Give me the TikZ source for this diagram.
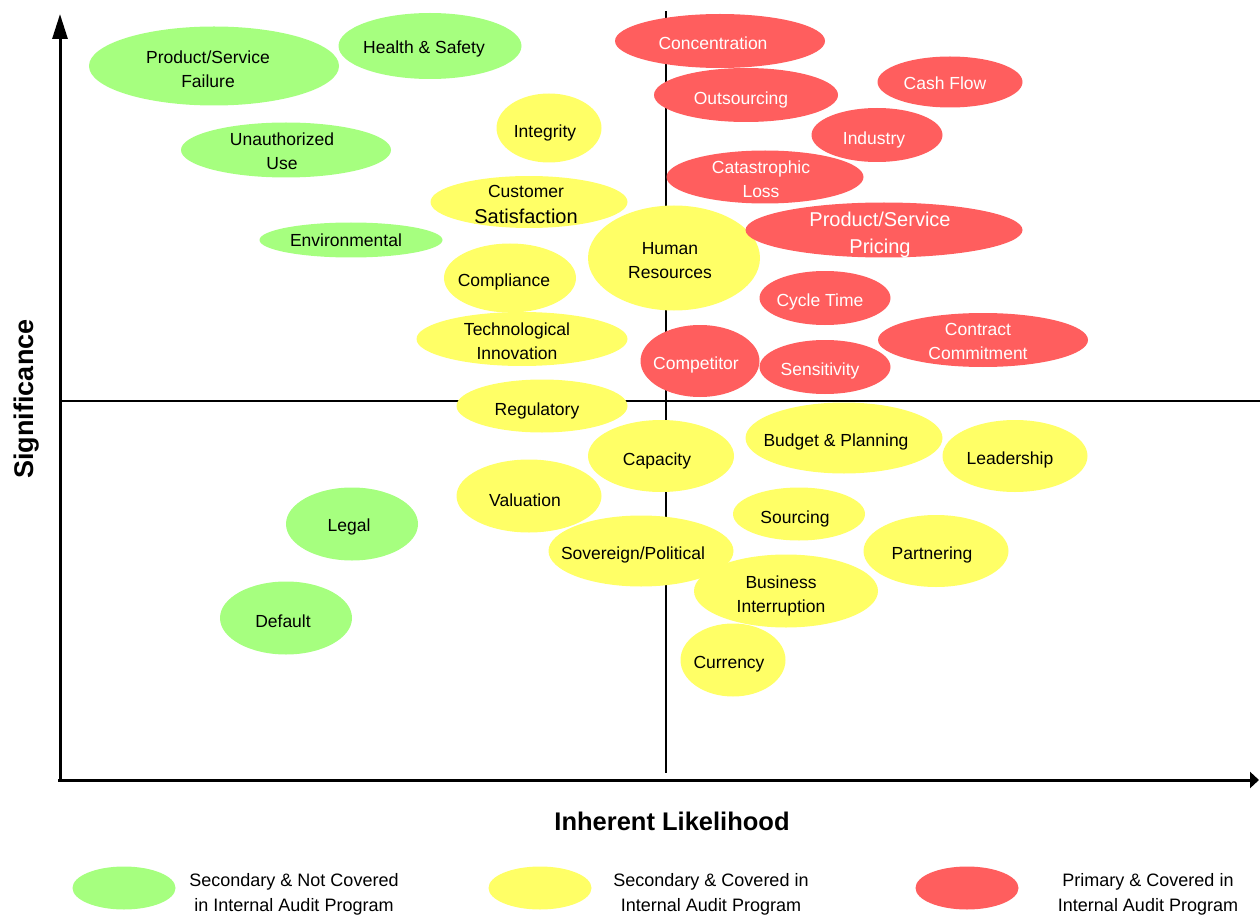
\documentclass[tikz,border=0pt]{standalone}
\usepackage{fontspec}
\setmainfont{Liberation Sans}
\usetikzlibrary{shapes.geometric,arrows.meta}
\definecolor{lowgreen}{HTML}{A6FF7F}
\definecolor{covyellow}{HTML}{FFFF66}
\definecolor{prired}{HTML}{FF5E5E}
\tikzset{
  blob/.style={ellipse, inner sep=0pt, draw=none},
  sec/.style={blob, fill=lowgreen},
  cov/.style={blob, fill=covyellow},
  pri/.style={blob, fill=prired},
  lbl/.style={align=center, inner sep=0pt, yshift=-1.5pt, font=\fontsize{17.5}{24}\selectfont},
  wlbl/.style={lbl, text=white},
  biglbl/.style={align=center, inner sep=0pt, yshift=-1.5pt, text=white, font=\fontsize{20}{27}\selectfont},
  axis/.style={line width=3pt},
  divider/.style={line width=2pt},
  axlabel/.style={inner sep=0pt, font=\bfseries\fontsize{25.5}{30}\selectfont},
  legtxt/.style={align=center, inner sep=0pt, font=\fontsize{18}{25}\selectfont}
}
\begin{document}
\begin{tikzpicture}[x=1pt,y=-1pt]
\useasboundingbox (0,0) rectangle (1260,917);

% axes and quadrant dividers
\coordinate (origin) at (60,780);
\coordinate (ytop) at (60,14);
\coordinate (xend) at (1259,780);
\coordinate (qtop) at (666,11);
\coordinate (qbot) at (666,773);
\coordinate (qleft) at (61,401);
\coordinate (qright) at (1260,401);
\draw[divider] (qtop) -- (qbot);
\draw[divider] (qleft) -- (qright);
\draw[axis, -{Triangle[length=25pt,width=15pt]}] (origin) -- (ytop);
\draw[axis, -{Triangle[length=9pt,width=16pt]}] (58,780) -- (xend);

% secondary, not covered
\node[sec, minimum width=250, minimum height=79] (psf) at (214,66) {};
\node[lbl] (psf-t) at (208,68) {Product/Service\\Failure};
\node[sec, minimum width=183, minimum height=66] (hs) at (430,46) {};
\node[lbl] (hs-t) at (424,47) {Health \& Safety};
\node[sec, minimum width=210, minimum height=55] (uu) at (286,150) {};
\node[lbl] (uu-t) at (282,150) {Unauthorized\\Use};
\node[sec, minimum width=183, minimum height=35] (env) at (351,240) {};
\node[lbl] (env-t) at (346,239) {Environmental};
\node[sec, minimum width=132, minimum height=73] (legal) at (352,524) {};
\node[lbl] (legal-t) at (349,525) {Legal};
\node[sec, minimum width=132, minimum height=73] (default) at (286,618) {};
\node[lbl] (default-t) at (283,620) {Default};

% secondary, covered
\node[cov, minimum width=105, minimum height=69] (integ) at (549,128) {};
\node[lbl] (integ-t) at (545,131) {Integrity};
\node[cov, minimum width=197, minimum height=52] (cust) at (529,202) {};
\node[lbl] (cust-t) at (526,203) {Customer\\[2pt]{\fontsize{20}{24}\selectfont\setlength\fboxsep{0pt}\colorbox{covyellow}{Satisfaction}}};
\node[cov, minimum width=132, minimum height=69] (compl) at (510,278) {};
\node[lbl] (compl-t) at (504,280) {Compliance};
\node[cov, minimum width=172, minimum height=105] (hr) at (674,258) {};
\node[lbl] (hr-t) at (670,259) {Human\\Resources};
\node[cov, minimum width=211, minimum height=54] (tech) at (522,339) {};
\node[lbl] (tech-t) at (517,340) {Technological\\Innovation};
\node[cov, minimum width=171, minimum height=53] (reg) at (542,406) {};
\node[lbl] (reg-t) at (537,409) {Regulatory};
\node[cov, minimum width=146, minimum height=72] (cap) at (661,456) {};
\node[lbl] (cap-t) at (657,459) {Capacity};
\node[cov, minimum width=145, minimum height=73] (val) at (529,496) {};
\node[lbl] (val-t) at (525,499) {Valuation};
\node[cov, minimum width=185, minimum height=71] (sov) at (641,551) {};
\node[lbl] (sov-t) at (633,553) {Sovereign/Political};
\node[cov, minimum width=197, minimum height=71] (budget) at (844,438) {};
\node[lbl] (budget-t) at (836,440) {Budget \& Planning};
\node[cov, minimum width=145, minimum height=72] (lead) at (1015,456) {};
\node[lbl] (lead-t) at (1010,458) {Leadership};
\node[cov, minimum width=132, minimum height=53] (src) at (799,514) {};
\node[lbl] (src-t) at (795,517) {Sourcing};
\node[cov, minimum width=145, minimum height=72] (partner) at (936,551) {};
\node[lbl] (partner-t) at (932,553) {Partnering};
\node[cov, minimum width=184, minimum height=73] (busint) at (786,591) {};
\node[lbl] (busint-t) at (781,594) {Business\\Interruption};
\node[cov, minimum width=105, minimum height=73] (curr) at (733,660) {};
\node[lbl] (curr-t) at (729,663) {Currency};

% primary, covered
\node[pri, minimum width=210, minimum height=54] (conc) at (720,41) {};
\node[wlbl] (conc-t) at (713,42) {Concentration};
\node[pri, minimum width=184, minimum height=54] (outs) at (746,95) {};
\node[wlbl] (outs-t) at (741,98) {Outsourcing};
\node[pri, minimum width=145, minimum height=51] (cash) at (950,82) {};
\node[wlbl] (cash-t) at (945,82) {Cash Flow};
\node[pri, minimum width=131, minimum height=54] (ind) at (877,135) {};
\node[wlbl] (ind-t) at (874,138) {Industry};
\node[pri, minimum width=197, minimum height=53] (cat) at (765,177) {};
\node[wlbl] (cat-t) at (761,178) {Catastrophic\\Loss};
\node[pri, minimum width=277, minimum height=55] (price) at (884,230) {};
\node[biglbl] (price-t) at (880,233) {Product/Service\\Pricing};
\node[pri, minimum width=131, minimum height=54] (cycle) at (825,298) {};
\node[wlbl] (cycle-t) at (820,300) {Cycle Time};
\node[pri, minimum width=210, minimum height=54] (contract) at (983,340) {};
\node[wlbl] (contract-t) at (978,340) {Contract\\Commitment};
\node[pri, minimum width=119, minimum height=72] (comp) at (700,361) {};
\node[wlbl] (comp-t) at (696,363) {Competitor};
\node[pri, minimum width=131, minimum height=54] (sens) at (825,367) {};
\node[wlbl] (sens-t) at (820,369) {Sensitivity};

% axis titles
\node[axlabel] (xlab) at (672,821) {Inherent Likelihood};
\node[axlabel, rotate=90, font=\bfseries\fontsize{27}{30}\selectfont] (ylab) at (27,399) {Significance};

% legend
\node[sec, minimum width=103, minimum height=43] (leg1) at (124,888) {};
\node[legtxt] (leg1-t) at (294,894) {Secondary \& Not Covered\\in Internal Audit Program};
\node[cov, minimum width=103, minimum height=43] (leg2) at (540,888) {};
\node[legtxt] (leg2-t) at (711,894) {Secondary \& Covered in\\Internal Audit Program};
\node[pri, minimum width=103, minimum height=43] (leg3) at (967,888) {};
\node[legtxt] (leg3-t) at (1148,894) {Primary \& Covered in\\Internal Audit Program};
\end{tikzpicture}
\end{document}
